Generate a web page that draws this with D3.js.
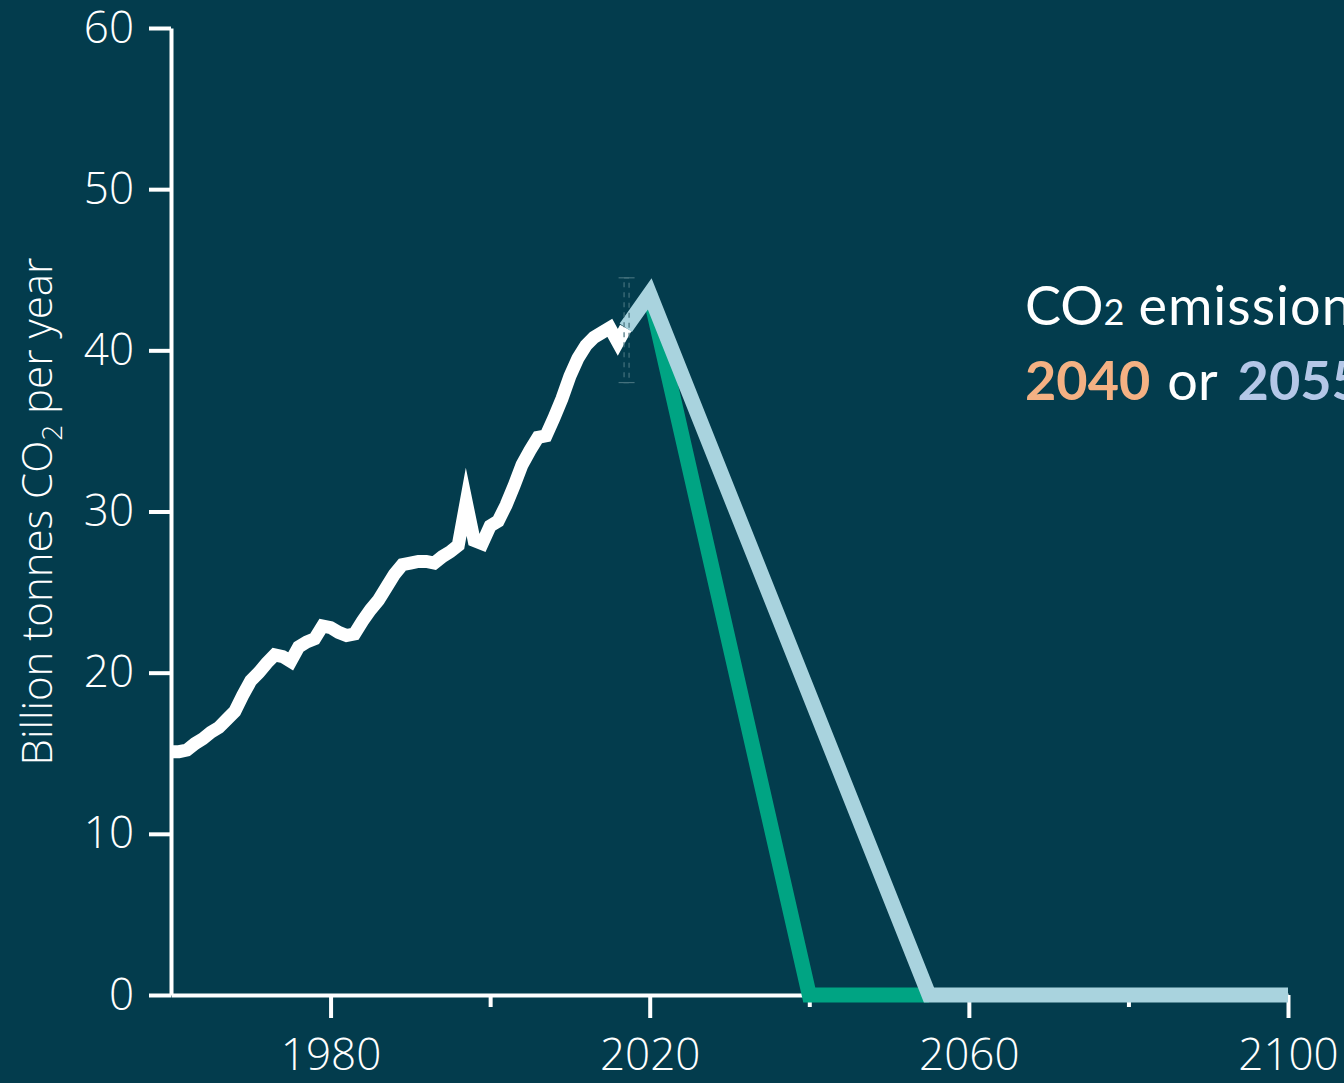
<!DOCTYPE html>
<html>
<head>
<meta charset="utf-8">
<script src="https://cdn.jsdelivr.net/npm/d3@7"></script>
<style>
  html, body { margin: 0; padding: 0; background: #033c4d; }
  svg { display: block; }
  .axis text { font-family: "Open Sans", "Noto Sans", sans-serif; font-weight: 300; fill: #ffffff; }
</style>
</head>
<body>
<svg id="chart" width="1344" height="1083"></svg>
<script>
// Historical global CO2 emissions (billion tonnes per year)
const histYears = [1960,1961,1962,1963,1964,1965,1966,1967,1968,1969,
                   1970,1971,1972,1973,1974,1975,1976,1977,1978,1979,
                   1980,1981,1982,1983,1984,1985,1986,1987,1988,1989,
                   1990,1991,1992,1993,1994,1995,1996,1997,1998,1999,
                   2000,2001,2002,2003,2004,2005,2006,2007,2008,2009,
                   2010,2011,2012,2013,2014,2015,2016,2017];
const histValues = [15.1,15.1,15.2,15.6,15.9,16.3,16.6,17.1,17.6,18.6,
                    19.5,20.0,20.6,21.1,21.0,20.7,21.6,21.9,22.1,22.9,
                    22.8,22.5,22.3,22.4,23.2,23.9,24.5,25.3,26.1,26.7,
                    26.8,26.9,26.9,26.8,27.2,27.5,27.9,30.6,28.2,28.0,
                    29.1,29.4,30.4,31.6,32.9,33.8,34.6,34.7,35.8,37.0,
                    38.4,39.5,40.3,40.8,41.1,41.4,40.5,41.4];

// Pathway reaching net zero in 2055
const path2055Years = [2017, 2020, 2055, 2100];
const path2055Values = [41.4, 43.5, 0, 0];

// Pathway reaching net zero in 2040
const path2040Years = [2020, 2040, 2055];
const path2040Values = [43.5, 0, 0];

// Axis ticks
const yTicks = [0, 10, 20, 30, 40, 50, 60];
const xMajorTicks = [1980, 2020, 2060, 2100];
const xMinorTicks = [2000, 2040, 2080];

const zip = (xs, vs) => xs.map((yr, i) => ({ year: yr, value: vs[i] }));

const svg = d3.select("#chart");
const W = 1344, H = 1083;

svg.append("rect").attr("width", W).attr("height", H).attr("fill", "#033c4d");

const x = d3.scaleLinear().domain([1960, 2100]).range([171, 1288]);
const y = d3.scaleLinear().domain([0, 60]).range([995, 28]);

// Y axis
svg.append("g")
  .attr("class", "axis")
  .attr("transform", `translate(${x(1960)},0)`)
  .call(d3.axisLeft(y).tickValues(yTicks).tickSize(22).tickSizeOuter(0).tickPadding(15));

// X axis: major ticks with labels, minor ticks without
svg.append("g")
  .attr("class", "axis")
  .attr("transform", `translate(0,${y(0)})`)
  .call(d3.axisBottom(x).tickValues(xMajorTicks).tickFormat(d3.format("d"))
        .tickSize(23).tickSizeOuter(0).tickPadding(21));

const xMinor = svg.append("g")
  .attr("class", "axis")
  .attr("transform", `translate(0,${y(0)})`)
  .call(d3.axisBottom(x).tickValues(xMinorTicks).tickFormat("").tickSize(12).tickSizeOuter(0));
xMinor.select(".domain").remove();

svg.selectAll(".axis .domain").attr("stroke", "#ffffff").attr("stroke-width", 4);
svg.selectAll(".axis .tick line").attr("stroke", "#ffffff").attr("stroke-width", 4);
svg.selectAll(".axis text").attr("font-size", 44);

// Y axis title
const yTitle = svg.append("text")
  .attr("transform", `translate(52,${(y(0) + y(60)) / 2}) rotate(-90)`)
  .attr("text-anchor", "middle")
  .attr("fill", "#ffffff")
  .attr("font-family", "'Open Sans', 'Noto Sans', sans-serif")
  .attr("font-weight", 300)
  .attr("font-size", 42);
yTitle.append("tspan").text("Billion tonnes CO");
yTitle.append("tspan").attr("font-size", 28).attr("dy", 10).text("2");
yTitle.append("tspan").attr("dy", -10).text(" per year");

const line = d3.line().x(d => x(d.year)).y(d => y(d.value));

// Historical emissions
svg.append("path")
  .datum(zip(histYears, histValues))
  .attr("d", line)
  .attr("fill", "none")
  .attr("stroke", "#ffffff")
  .attr("stroke-width", 13)
  .attr("stroke-linejoin", "miter")
  .attr("stroke-miterlimit", 10);

// 2040 net-zero pathway
svg.append("path")
  .datum(zip(path2040Years, path2040Values))
  .attr("d", line)
  .attr("fill", "none")
  .attr("stroke", "#00a483")
  .attr("stroke-width", 15)
  .attr("stroke-linejoin", "miter")
  .attr("stroke-miterlimit", 10);

// 2055 net-zero pathway
svg.append("path")
  .datum(zip(path2055Years, path2055Values))
  .attr("d", line)
  .attr("fill", "none")
  .attr("stroke", "#a9d3de")
  .attr("stroke-width", 15)
  .attr("stroke-linejoin", "miter")
  .attr("stroke-miterlimit", 10);

// Dashed marker at the end of the historical record
const markYear = 2017.1, markTop = 44.5, markBottom = 38.0;
const mark = svg.append("g")
  .attr("fill", "none")
  .attr("stroke", "#44717d")
  .attr("stroke-width", 1.2);
mark.append("rect")
  .attr("x", x(markYear) - 2.5).attr("width", 5)
  .attr("y", y(markTop)).attr("height", y(markBottom) - y(markTop))
  .attr("stroke-dasharray", "5,5");
[markTop, markBottom].forEach(v => {
  mark.append("line")
    .attr("x1", x(markYear) - 8).attr("x2", x(markYear) + 8)
    .attr("y1", y(v)).attr("y2", y(v));
});

// Annotation
const note = svg.append("text")
  .attr("x", 1025).attr("y", 325)
  .attr("fill", "#ffffff")
  .attr("font-family", "Lato, 'Open Sans', sans-serif")
  .attr("font-size", 54);
note.append("tspan").text("CO");
note.append("tspan").attr("font-size", 36).text("2");
note.append("tspan").attr("dx", 14).attr("letter-spacing", 1).text("emissions reach net zero by");

const note2 = svg.append("text")
  .attr("x", 1025).attr("y", 400)
  .attr("fill", "#ffffff")
  .attr("font-family", "Lato, 'Open Sans', sans-serif")
  .attr("font-size", 54);
note2.append("tspan").attr("font-weight", 700).attr("fill", "#f4b183").text("2040");
note2.append("tspan").attr("dx", 17).text("or");
note2.append("tspan").attr("dx", 20).attr("font-weight", 700).attr("fill", "#b4c7e7").text("2055");
</script>
</body>
</html>
